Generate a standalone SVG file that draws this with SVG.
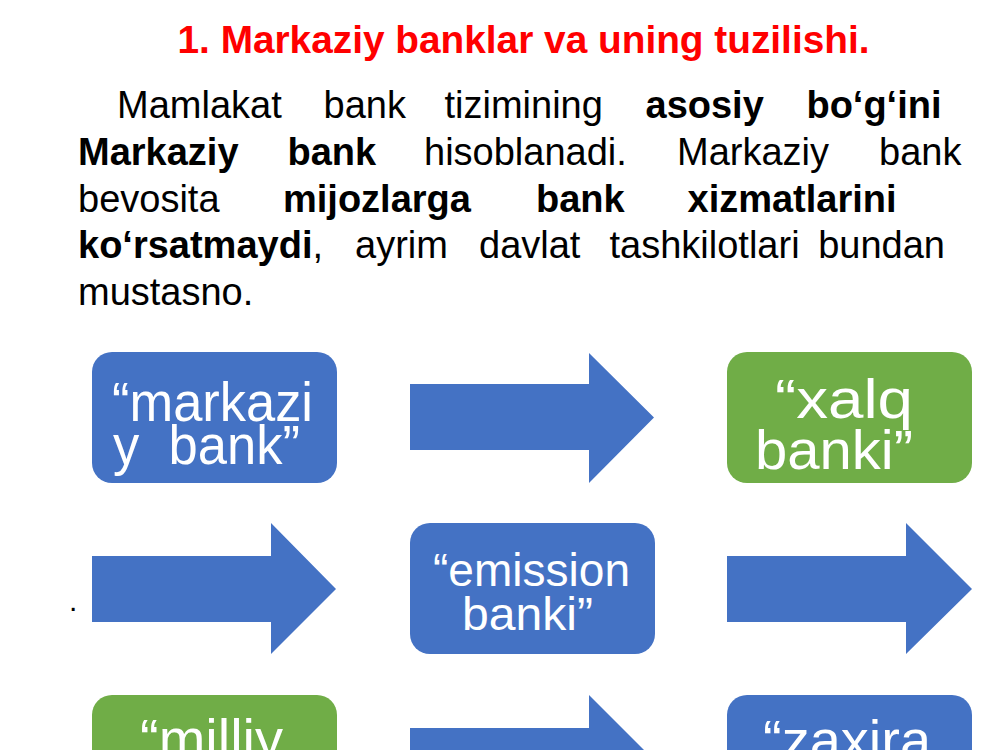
<svg xmlns="http://www.w3.org/2000/svg" width="1000" height="750" viewBox="0 0 1000 750">
<style>
.title{font-family:"Liberation Sans",Arial,sans-serif;font-size:39px;font-weight:bold;fill:#FF0000}
.body{font-family:"Liberation Sans",Arial,sans-serif;font-size:38px;fill:#000}
.b{font-weight:bold}
.lbl{font-family:"Liberation Sans",Arial,sans-serif;font-size:56px;fill:#fff}
.lbl2{font-family:"Liberation Sans",Arial,sans-serif;font-size:46px;fill:#fff}
.blue{fill:#4472C4}
.green{fill:#70AD47}
.arrow{fill:#4472C4}
</style>
<rect width="1000" height="750" fill="#fff"/>
<g id="title">
<text class="title" x="177.5" y="53" textLength="692" lengthAdjust="spacingAndGlyphs">1. Markaziy banklar va uning tuzilishi.</text>
</g>
<g id="paragraph" class="body">
<text x="117" y="118">Mamlakat</text>
<text x="323.5" y="118">bank</text>
<text x="444.5" y="118">tizimining</text>
<text x="645.5" y="118" class="b">asosiy</text>
<text x="941.5" y="118" class="b" text-anchor="end">bo‘g‘ini</text>
<text x="78" y="165" class="b">Markaziy</text>
<text x="287.5" y="165" class="b">bank</text>
<text x="424" y="165">hisoblanadi.</text>
<text x="677" y="165">Markaziy</text>
<text x="961.5" y="165" text-anchor="end">bank</text>
<text x="78" y="212">bevosita</text>
<text x="283" y="212" class="b">mijozlarga</text>
<text x="536" y="212" class="b">bank</text>
<text x="687.5" y="212" class="b">xizmatlarini</text>
<text x="78" y="258"><tspan class="b">ko‘rsatmaydi</tspan>,</text>
<text x="355" y="258">ayrim</text>
<text x="479" y="258">davlat</text>
<text x="609.5" y="258">tashkilotlari</text>
<text x="945" y="258" text-anchor="end">bundan</text>
<text x="78" y="305">mustasno.</text>
</g>
<g id="dot">
<text x="69" y="611" style="font-family:'Liberation Sans',Arial,sans-serif;font-size:30px">.</text>
</g>
<g id="connectors">
<polygon class="arrow" points="410,384 589,384 589,353 654,417.5 589,483 589,450 410,450"/>
<polygon class="arrow" points="92,556 271,556 271,523 336,589 271,654 271,622 92,622"/>
<polygon class="arrow" points="727,556 906,556 906,523 972,589 906,654 906,622 727,622"/>
<polygon class="arrow" points="410,728 589,728 589,695 654,760 589,826 589,794 410,794"/>
</g>
<g id="node-markaziy">
<rect class="blue" x="92" y="352" width="245" height="131" rx="20"/>
<text class="lbl" x="112" y="421" textLength="201" lengthAdjust="spacingAndGlyphs">“markazi</text>
<text class="lbl" x="113" y="464" textLength="187" lengthAdjust="spacingAndGlyphs" xml:space="preserve">y  bank”</text>
</g>
<g id="node-xalq">
<rect class="green" x="727" y="352" width="245" height="131" rx="20"/>
<text class="lbl" x="775" y="418" textLength="138" lengthAdjust="spacingAndGlyphs">“xalq</text>
<text class="lbl" x="755" y="469" textLength="158" lengthAdjust="spacingAndGlyphs">banki”</text>
</g>
<g id="node-emission">
<rect class="blue" x="410" y="523" width="245" height="131" rx="20"/>
<text class="lbl2" x="433" y="586" textLength="197" lengthAdjust="spacingAndGlyphs">“emission</text>
<text class="lbl2" x="462" y="630" textLength="131" lengthAdjust="spacingAndGlyphs">banki”</text>
</g>
<g id="node-milliy">
<rect class="green" x="92" y="695" width="245" height="131" rx="20"/>
<text class="lbl" x="140" y="758">“milliy</text>
</g>
<g id="node-zaxira">
<rect class="blue" x="727" y="695" width="245" height="131" rx="20"/>
<text class="lbl" x="763" y="759">“zaxira</text>
</g>
</svg>
